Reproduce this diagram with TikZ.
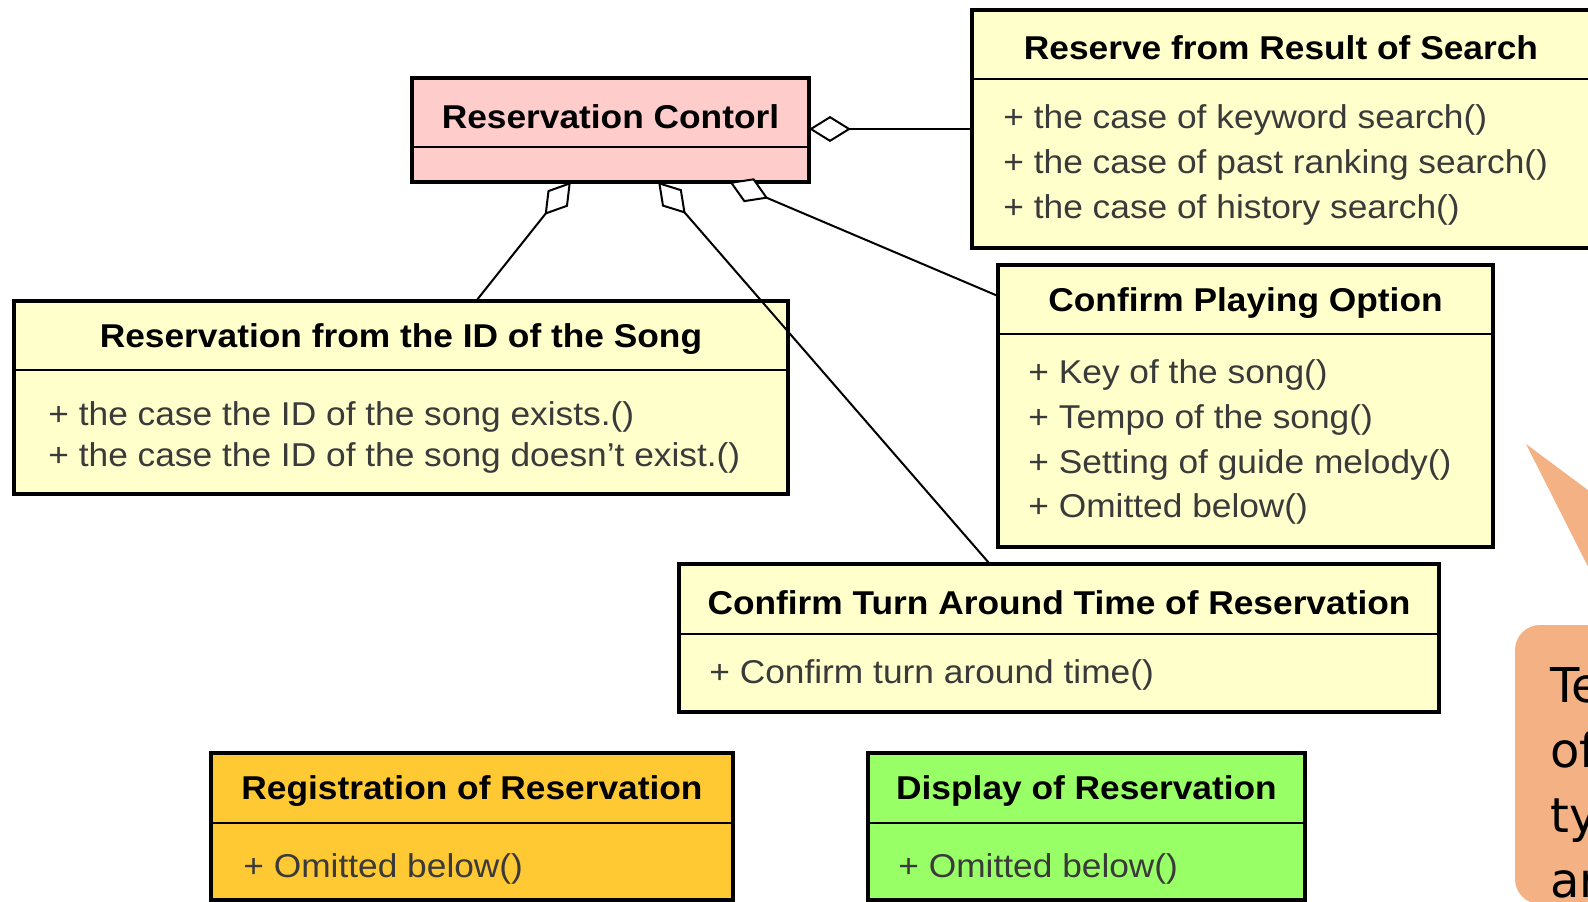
\documentclass[tikz,border=0pt]{standalone}
\usepackage{fontspec}
\setmainfont{Liberation Sans}[FakeStretch=1.07]
\newfontfamily\calloutfont{DejaVu Sans}
\usetikzlibrary{arrows.meta,calc,fit}
\definecolor{classyellow}{HTML}{FFFFCC}
\definecolor{classpink}{HTML}{FFCCCC}
\definecolor{classorange}{HTML}{FFC933}
\definecolor{classgreen}{HTML}{99FF66}
\definecolor{calloutfill}{HTML}{F4B183}
\definecolor{bodygray}{HTML}{3A3A3A}
\tikzset{
  umlbox/.style={draw=black, line width=2pt, inner sep=0pt, outer sep=0pt},
  divline/.style={line width=1pt},
  titletext/.style={font=\fontsize{16.5}{20}\selectfont\bfseries, inner sep=0pt},
  bodytext/.style={font=\fontsize{16.5}{22}\selectfont, text=bodygray, inner sep=0pt, anchor=base west},
  conn/.style={line width=1pt, -{Diamond[fill=white, length=21pt, width=13pt]}},
  callouttext/.style={font=\calloutfont\fontsize{24}{26}\selectfont, text=black, inner sep=0pt, anchor=base west},
}
\begin{document}
\begin{tikzpicture}[x=0.5pt, y=-0.5pt]
\useasboundingbox (0,0) rectangle (1588,901);
\fill[white] (0,0) rectangle (1588,901);

% callout
\fill[calloutfill] (1526,444) -- (1620,514) -- (1620,630) -- cycle;
\fill[calloutfill, rounded corners=12.5pt] (1515,625) rectangle (1700,904);
\node[callouttext] (c1) at (1550,702) {Te};
\node[callouttext] (c2) at (1550,767) {of};
\node[callouttext] (c3) at (1550,832) {ty};
\node[callouttext] (c4) at (1550,897) {ar};

% class boxes
\node[umlbox, fill=classpink, fit={(412,78) (809,182)}] (rc) {};
\draw[divline] ($(rc.north west)+(0,69)$) -- ($(rc.north east)+(0,69)$);
\node[titletext] (rct) at ($(rc.north)+(0,38.5)$) {Reservation Contorl};

\node[umlbox, fill=classyellow, fit={(972,10) (1592,248)}] (rs) {};
\draw[divline] ($(rs.north west)+(0,69)$) -- ($(rs.north east)+(0,69)$);
\node[titletext] (rst) at (1281,48) {Reserve from Result of Search};
\node[bodytext] (rs1) at (1003,128) {+ the case of keyword search()};
\node[bodytext] (rs2) at (1003,173) {+ the case of past ranking search()};
\node[bodytext] (rs3) at (1003,218) {+ the case of history search()};

\node[umlbox, fill=classyellow, fit={(14,301) (788,494)}] (id) {};
\draw[divline] ($(id.north west)+(0,69)$) -- ($(id.north east)+(0,69)$);
\node[titletext] (idt) at ($(id.north)+(0,38)$) {Reservation from the ID of the Song};
\node[bodytext] (id1) at (48,425) {+ the case the ID of the song exists.()};
\node[bodytext] (id2) at (48,466) {+ the case the ID of the song doesn't exist.()};

\node[umlbox, fill=classyellow, fit={(998,265) (1493,547)}] (cpo) {};
\draw[divline] ($(cpo.north west)+(0,69)$) -- ($(cpo.north east)+(0,69)$);
\node[titletext] (cpot) at ($(cpo.north)+(0,38)$) {Confirm Playing Option};
\node[bodytext] (cpo1) at (1028,383) {+ Key of the song()};
\node[bodytext] (cpo2) at (1028,428) {+ Tempo of the song()};
\node[bodytext] (cpo3) at (1028,473) {+ Setting of guide melody()};
\node[bodytext] (cpo4) at (1028,517) {+ Omitted below()};

\node[umlbox, fill=classyellow, fit={(679,564) (1439,712)}] (cta) {};
\draw[divline] ($(cta.north west)+(0,70)$) -- ($(cta.north east)+(0,70)$);
\node[titletext] (ctat) at ($(cta.north)+(0,39)$) {Confirm Turn Around Time of Reservation};
\node[bodytext] (cta1) at (709,683) {+ Confirm turn around time()};

\node[umlbox, fill=classorange, fit={(211,753) (733,900)}] (rr) {};
\draw[divline] ($(rr.north west)+(0,70)$) -- ($(rr.north east)+(0,70)$);
\node[titletext] (rrt) at ($(rr.north)+(0,38)$) {Registration of Reservation};
\node[bodytext] (rr1) at (243,877) {+ Omitted below()};

\node[umlbox, fill=classgreen, fit={(868,753) (1305,900)}] (dr) {};
\draw[divline] ($(dr.north west)+(0,70)$) -- ($(dr.north east)+(0,70)$);
\node[titletext] (drt) at ($(dr.north)+(0,38)$) {Display of Reservation};
\node[bodytext] (dr1) at (898,877) {+ Omitted below()};

% aggregation connectors
\draw[conn] (rs.west) -- (rs.west -| rc.east);
\draw[conn] ($(id.north west)!0.597!(id.north east)$) -- ($(rc.south west)!0.40!(rc.south east)$);
\draw[conn] ($(cta.north west)!0.409!(cta.north east)$) -- ($(rc.south west)!0.62!(rc.south east)$);
\draw[conn] ($(cpo.north west)!0.11!(cpo.south west)$) -- ($(rc.south west)!0.80!(rc.south east)$);
\end{tikzpicture}
\end{document}
